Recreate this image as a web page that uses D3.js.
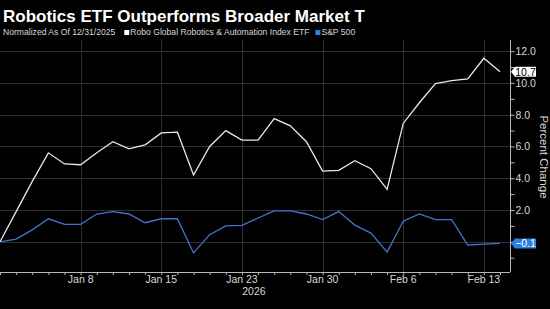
<!DOCTYPE html>
<html>
<head>
<meta charset="utf-8">
<script src="https://cdn.jsdelivr.net/npm/d3@7"></script>
<style>
  html, body { margin: 0; padding: 0; background: #000; }
  svg { display: block; }
</style>
</head>
<body>
<div id="chart"></div>
<script>
/* Chart data */
const TITLE = "Robotics ETF Outperforms Broader Market T"
const SUBTITLE = "Normalized As Of 12/31/2025"
const SERIES_NAMES = ["Robo Global Robotics & Automation Index ETF", "S&P 500"]
const dates = ["2025-12-31", "2026-01-02", "2026-01-05", "2026-01-06", "2026-01-07", "2026-01-08",
  "2026-01-09", "2026-01-12", "2026-01-13", "2026-01-14", "2026-01-15", "2026-01-16",
  "2026-01-20", "2026-01-21", "2026-01-22", "2026-01-23", "2026-01-26", "2026-01-27",
  "2026-01-28", "2026-01-29", "2026-01-30", "2026-02-02", "2026-02-03", "2026-02-04",
  "2026-02-05", "2026-02-06", "2026-02-09", "2026-02-10", "2026-02-11", "2026-02-12",
  "2026-02-13", "2026-02-17"]
const roboValues = [0, 1.9, 3.8, 5.6, 4.9, 4.85, 5.6, 6.3, 5.85, 6.1, 6.85, 6.9, 4.2, 6.0, 7.0, 6.4,
  6.4, 7.75, 7.3, 6.3, 4.45, 4.5, 5.1, 4.6, 3.3, 7.45, 8.75, 9.95, 10.15, 10.25, 11.55, 10.7]
const spxValues = [0, 0.17, 0.75, 1.45, 1.1, 1.1, 1.75, 1.9, 1.75, 1.2, 1.45, 1.45, -0.7, 0.45, 1.0, 1.03,
  1.5, 1.95, 1.95, 1.75, 1.4, 1.9, 1.05, 0.55, -0.65, 1.3, 1.75, 1.4, 1.4, -0.2, -0.15, -0.1]
const xTickDates = ["2026-01-08", "2026-01-15", "2026-01-23", "2026-01-30", "2026-02-06", "2026-02-13"]
const xTickLabels = ["Jan 8", "Jan 15", "Jan 23", "Jan 30", "Feb 6", "Feb 13"]
const gridTicks = [0, 2, 4, 6, 8, 10, 12]
const yLabelTicks = [2, 4, 6, 8, 10, 12]
const Y_LABEL = "Percent Change"
const YEAR_LABEL = "2026"

/* Layout */
const WIDTH = 550
const HEIGHT = 309
const PLOT_LEFT = 0
const PLOT_RIGHT = 510
const PLOT_TOP = 40
const PLOT_BOTTOM = 272
const FONT = "'Liberation Sans', Arial, sans-serif"
const WHITE_LINE = "#e8e8e8"
const BLUE_LINE = "#4274cc"
const BLUE_TAG = "#2f7fe0"
const GRID = "#2e2e2e"
const AXIS = "#b8b8b8"
const TEXT = "#d8d8d8"

const svg = d3.select("#chart")
              .append("svg")
              .attr("width", WIDTH)
              .attr("height", HEIGHT)
              .style("font-family", FONT);

const xScale = d3.scaleLinear().domain([0, 31.62]).range([PLOT_LEFT, PLOT_RIGHT]);
const yScale = d3.scaleLinear().domain([-1.9, 12.7]).range([PLOT_BOTTOM, PLOT_TOP]);
const idx = d3.range(dates.length);

/* Gridlines */
svg.append("g")
   .selectAll("line")
   .data(gridTicks)
   .enter()
   .append("line")
   .attr("x1", PLOT_LEFT).attr("x2", PLOT_RIGHT)
   .attr("y1", d => Math.round(yScale(d)) + 0.5).attr("y2", d => Math.round(yScale(d)) + 0.5)
   .attr("stroke", GRID);
svg.append("g")
   .selectAll("line")
   .data(xTickDates)
   .enter()
   .append("line")
   .attr("x1", d => Math.round(xScale(dates.indexOf(d))) + 0.5)
   .attr("x2", d => Math.round(xScale(dates.indexOf(d))) + 0.5)
   .attr("y1", PLOT_TOP).attr("y2", PLOT_BOTTOM)
   .attr("stroke", GRID);

/* X axis: a small tick for every trading day, labels every 5 */
const xAxis = d3.axisBottom(xScale)
                .tickValues(idx)
                .tickSize(3)
                .tickFormat(() => "");
const gx = svg.append("g")
              .attr("transform", "translate(0," + PLOT_BOTTOM + ")")
              .call(xAxis);
gx.select(".domain").attr("stroke", AXIS).attr("d", "M" + PLOT_LEFT + ",0.5H" + PLOT_RIGHT);
gx.selectAll(".tick line").attr("stroke", AXIS);
svg.append("g")
   .selectAll("text")
   .data(xTickDates)
   .enter()
   .append("text")
   .attr("x", d => xScale(dates.indexOf(d)))
   .attr("y", 283)
   .attr("text-anchor", "middle")
   .attr("fill", TEXT)
   .attr("font-size", 10.5)
   .text((d, i) => xTickLabels[i]);
svg.append("text")
   .attr("x", xScale(dates.indexOf("2026-01-23")) + 12)
   .attr("y", 295)
   .attr("text-anchor", "middle")
   .attr("fill", TEXT)
   .attr("font-size", 10.5)
   .text(YEAR_LABEL);

/* Y axis on the right */
const yAxis = d3.axisRight(yScale)
                .tickValues(d3.range(-1, 13))
                .tickSize(4)
                .tickFormat(d => yLabelTicks.includes(d) ? d3.format(".1f")(d) : "");
const gy = svg.append("g")
              .attr("transform", "translate(" + (PLOT_RIGHT + 0.5) + ",0)")
              .call(yAxis);
gy.select(".domain").attr("stroke", AXIS).attr("d", "M0," + PLOT_TOP + "V" + PLOT_BOTTOM);
gy.selectAll(".tick line").attr("stroke", AXIS);
gy.selectAll(".tick text")
  .attr("fill", TEXT)
  .attr("font-size", 10.5)
  .attr("font-family", FONT)
  .attr("x", 5);
svg.append("text")
   .attr("transform", "translate(540," + 157 + ") rotate(90)")
   .attr("text-anchor", "middle")
   .attr("fill", TEXT)
   .attr("font-size", 11.5)
   .text(Y_LABEL);

/* Lines */
const line = (values) => d3.line()
                           .x(i => xScale(i))
                           .y(i => yScale(values[i]))(idx);
svg.append("path")
   .attr("d", line(spxValues))
   .attr("fill", "none")
   .attr("stroke", BLUE_LINE)
   .attr("stroke-width", 1.3);
svg.append("path")
   .attr("d", line(roboValues))
   .attr("fill", "none")
   .attr("stroke", WHITE_LINE)
   .attr("stroke-width", 1.3);

/* Last value tags */
const addTag = (value, bg, fg) => {
  const y = yScale(value);
  const g = svg.append("g").attr("transform", "translate(" + (PLOT_RIGHT + 1) + "," + y + ")");
  g.append("path")
   .attr("d", "M0,0L4,-5H25V5H4Z")
   .attr("fill", bg);
  g.append("text")
   .attr("x", 14.5)
   .attr("y", 3.8)
   .attr("text-anchor", "middle")
   .attr("fill", fg)
   .attr("font-size", 10.5)
   .text(d3.format(".1f")(value));
}
addTag(roboValues[roboValues.length - 1], "#ffffff", "#000000");
addTag(spxValues[spxValues.length - 1], BLUE_TAG, "#ffffff");

/* Title and legend */
svg.append("text")
   .attr("x", 3)
   .attr("y", 22)
   .attr("fill", "#ffffff")
   .attr("font-size", 17)
   .attr("font-weight", "bold")
   .text(TITLE);
const sub = svg.append("text")
               .attr("x", 3)
               .attr("y", 35)
               .attr("fill", TEXT)
               .attr("font-size", 8.6)
               .text(SUBTITLE);
let lx = 3 + sub.node().getComputedTextLength() + 9;
const legendColors = ["#ffffff", BLUE_TAG];
SERIES_NAMES.forEach((name, i) => {
  svg.append("rect")
     .attr("x", lx).attr("y", 30).attr("width", 5).attr("height", 5)
     .attr("fill", legendColors[i]);
  const t = svg.append("text")
               .attr("x", lx + 6)
               .attr("y", 35)
               .attr("fill", TEXT)
               .attr("font-size", 8.6)
               .text(name);
  lx += 6 + t.node().getComputedTextLength() + 6;
});
</script>
</body>
</html>
